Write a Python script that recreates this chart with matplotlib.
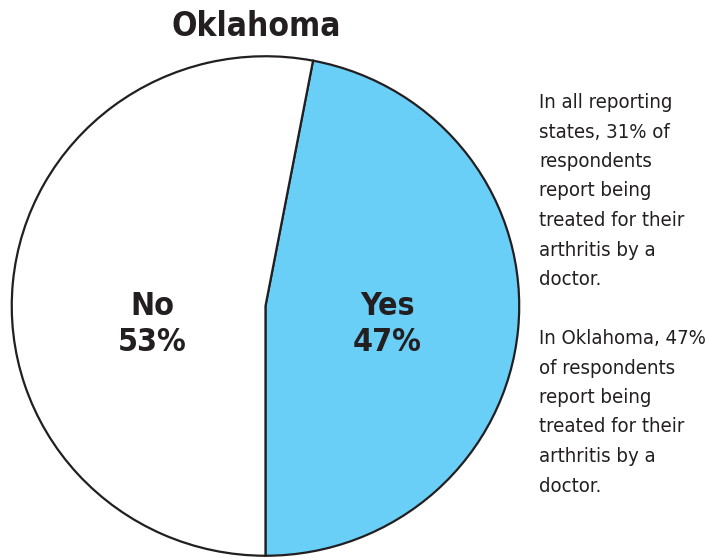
import matplotlib.pyplot as plt

labels = ["Yes", "No"]
shares = [47, 53]
colors = ["#6ACFF6", "#FFFFFF"]
title = "Oklahoma"
note_lines = [
    "In all reporting",
    "states, 31% of",
    "respondents",
    "report being",
    "treated for their",
    "arthritis by a",
    "doctor.",
    "",
    "In Oklahoma, 47%",
    "of respondents",
    "report being",
    "treated for their",
    "arthritis by a",
    "doctor.",
]

INK = "#231F20"
NARROW = ["DejaVu Sans"]

fig = plt.figure(figsize=(7.08, 5.58), dpi=100)
ax = fig.add_axes([0.0148, 0.0018, 510 / 708, 502 / 558])

wedges, _ = ax.pie(
    shares,
    colors=colors,
    startangle=-90,
    counterclock=True,
    wedgeprops={"edgecolor": INK, "linewidth": 1.6},
)
ax.set_aspect("auto")
ax.set_xlim(-1.005, 1.005)
ax.set_ylim(-1.005, 1.005)

# slice labels
ax.text(0.48, -0.075, f"{labels[0]}\n{shares[0]}%", ha="center", va="center",
        fontsize=23, fontweight="bold", family=NARROW, fontstretch="condensed",
        color=INK, linespacing=1.2)
ax.text(-0.445, -0.075, f"{labels[1]}\n{shares[1]}%", ha="center", va="center",
        fontsize=23, fontweight="bold", family=NARROW, fontstretch="condensed",
        color=INK, linespacing=1.2)

fig.text(256 / 708, 1 - 27 / 558, title, ha="center", va="center",
         fontsize=24, fontweight="bold", family=NARROW, fontstretch="condensed",
         color=INK)

fig.text(539 / 708, 1 - 93 / 558, "\n".join(note_lines), ha="left", va="top",
         fontsize=14.6, family=NARROW, fontstretch="condensed", color=INK,
         linespacing=1.7)

fig.savefig("out.png", dpi=100)
